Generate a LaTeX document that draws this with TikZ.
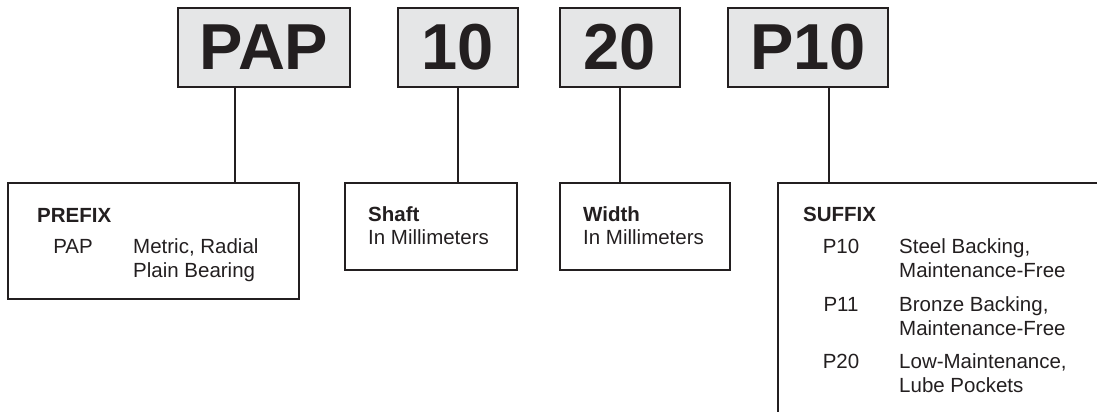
\documentclass[tikz,border=0pt]{standalone}
\usepackage{fontspec}
\setmainfont{Liberation Sans}
\definecolor{ink}{HTML}{231F20}
\definecolor{boxgray}{HTML}{E5E6E7}
\tikzset{
    code/.style = {draw = ink, fill = boxgray, line width = 1.8pt, text = ink, anchor = north west, inner sep = 0pt, font = \fontsize{65}{65}\selectfont\bfseries},
    panel/.style = {draw = ink, line width = 1.8pt, anchor = north west, inner sep = 0pt},
    lbl/.style = {text = ink, anchor = base west, inner sep = 0pt, font = \fontsize{20.5}{24}\selectfont},
    head/.style = {lbl, font = \fontsize{20.5}{24}\selectfont\bfseries},
    num/.style = {lbl, anchor = base},
    lead/.style = {draw = ink, line width = 1.7pt}
}
\begin{document}
\begin{tikzpicture}[x = 1pt, y = -1pt]
        \clip (0, 0) rectangle (1097, 412);

        % part number
        \node [code, minimum width = 172, minimum height = 79] (pap) at (177, 7) {PAP};
        \node [code, minimum width = 120, minimum height = 79] (ten) at (397, 7) {10};
        \node [code, minimum width = 120, minimum height = 79] (twenty) at (559, 7) {20};
        \node [code, minimum width = 160, minimum height = 79] (ptenc) at (727, 7) {P10};

        % explanation boxes
        \node [panel, minimum width = 291, minimum height = 116] (prefix) at (7, 182) {};
        \node [panel, minimum width = 172, minimum height = 87] (shaft) at (344, 182) {};
        \node [panel, minimum width = 170, minimum height = 87] (width) at (559, 182) {};
        \node [panel, minimum width = 360, minimum height = 260] (suffix) at (777, 182) {};

        \draw [lead] ([xshift = -29]pap.south) coordinate (pap foot) -- (pap foot |- prefix.north);
        \draw [lead] (ten.south) -- (ten.south |- shaft.north);
        \draw [lead] (twenty.south) -- (twenty.south |- width.north);
        \draw [lead] ([xshift = 21]ptenc.south) coordinate (ptenc foot) -- (ptenc foot |- suffix.north);

        % texts
        \foreach \x/\y/\t in {37/222/PREFIX, 368/221/Shaft, 583/221/Width, 803/221/SUFFIX}
            \node [head] at (\x, \y) {\t};
        \foreach \x/\y/\t in {73/253/PAP, 841/253/P10, 841/311/P11, 841/368/P20}
            \node [num] at (\x, \y) {\t};
        \foreach \x/\y/\t in {
                133/253/{Metric, Radial}, 133/277/Plain Bearing,
                368/244/In Millimeters, 583/244/In Millimeters,
                899/253/{Steel Backing,}, 899/277/Maintenance-Free,
                899/311/{Bronze Backing,}, 899/335/Maintenance-Free,
                899/368/{Low-Maintenance,}, 899/392/Lube Pockets}
            \node [lbl] at (\x, \y) {\t};
    \end{tikzpicture}
\end{document}
